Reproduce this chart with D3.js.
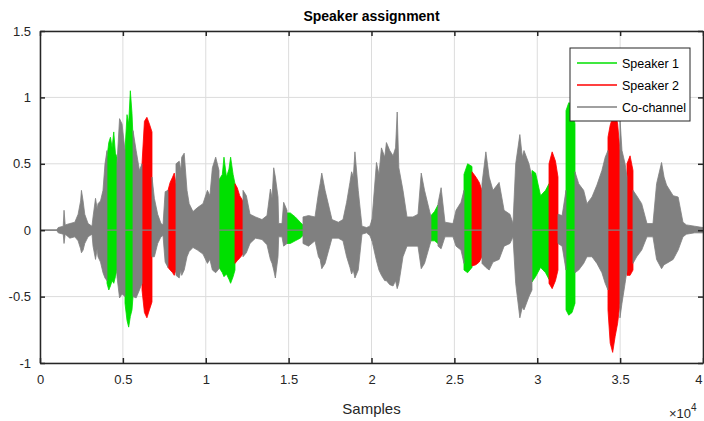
<!DOCTYPE html>
<html>
<head>
<meta charset="utf-8">
<script src="https://cdn.jsdelivr.net/npm/d3@7"></script>
<style>
  body { margin: 0; background: #fff; }
  svg { display: block; font-family: "Liberation Sans", Arial, sans-serif; }
</style>
</head>
<body>
<div id="chart"></div>
<script>
// envelope knots: [sample, upper, lower]
const speaker1 = [
  [[4042,0.55,-0.40],[4150,0.66,-0.45],[4250,0.70,-0.42],[4350,0.62,-0.38],[4450,0.74,-0.40],[4550,0.58,-0.35],[4645,0.55,-0.30]],
  [[5128,0.60,-0.55],[5250,0.87,-0.68],[5350,0.80,-0.73],[5450,1.05,-0.65],[5550,0.88,-0.60],[5611,0.70,-0.50]],
  [[10799,0.38,-0.28],[11000,0.42,-0.32],[11100,0.55,-0.35],[11250,0.40,-0.33],[11400,0.46,-0.37],[11500,0.55,-0.40],[11650,0.42,-0.35],[11764,0.35,-0.30]],
  [[14902,0.13,-0.10],[15100,0.13,-0.10],[15400,0.10,-0.08],[15700,0.06,-0.06],[15867,0.04,-0.04]],
  [[23589,0.11,-0.08],[23800,0.14,-0.08],[24011,0.19,-0.10]],
  [[25580,0.42,-0.30],[25800,0.50,-0.32],[26063,0.48,-0.28]],
  [[29682,0.45,-0.39],[29900,0.43,-0.35],[30200,0.26,-0.28],[30500,0.30,-0.32],[30708,0.35,-0.37]],
  [[31734,0.90,-0.60],[31900,0.96,-0.64],[32100,0.95,-0.62],[32277,0.80,-0.55]]
];

const speaker2 = [
  [[6154,0.50,-0.45],[6300,0.82,-0.62],[6450,0.85,-0.66],[6600,0.80,-0.60],[6757,0.74,-0.54]],
  [[7722,0.30,-0.28],[7850,0.36,-0.30],[8000,0.40,-0.32],[8100,0.43,-0.34],[8205,0.35,-0.30]],
  [[11764,0.35,-0.25],[11900,0.32,-0.23],[12050,0.26,-0.21],[12247,0.22,-0.18]],
  [[26063,0.44,-0.27],[26300,0.40,-0.26],[26500,0.36,-0.24],[26666,0.30,-0.20]],
  [[30708,0.50,-0.40],[30900,0.59,-0.44],[31100,0.52,-0.38],[31251,0.40,-0.30]],
  [[34267,0.70,-0.60],[34400,0.79,-0.85],[34550,0.85,-0.92],[34700,0.90,-0.80],[34850,0.80,-0.70],[34991,0.60,-0.55]],
  [[35414,0.50,-0.34],[35600,0.56,-0.34],[35776,0.45,-0.30]]
];

const coChannel = [
  [[0,0,0],[1000,0,0],[1100,0.02,-0.02],[1400,0.03,-0.03],[1450,0.15,-0.10],[1520,0.04,-0.03],[1800,0.05,-0.06],[2100,0.06,-0.05],[2300,0.12,-0.08],[2450,0.22,-0.14],[2500,0.30,-0.17],[2600,0.22,-0.15],[2700,0.12,-0.10],[2900,0.05,-0.05],[3137,0.03,-0.03],[3200,0.10,-0.12],[3350,0.24,-0.22],[3450,0.16,-0.14],[3500,0.20,-0.20],[3650,0.22,-0.24],[3800,0.30,-0.32],[3921,0.50,-0.36],[4042,0.60,-0.38]],
  [[4645,0.50,-0.35],[4800,0.84,-0.51],[4950,0.80,-0.48],[5128,0.60,-0.50]],
  [[5611,0.75,-0.50],[5800,0.60,-0.51],[6000,0.45,-0.45],[6154,0.50,-0.40]],
  [[6757,0.40,-0.20],[6900,0.24,-0.20],[7100,0.12,-0.10],[7300,0.05,-0.05],[7421,0.04,-0.04],[7550,0.29,-0.24],[7722,0.30,-0.28]],
  [[8205,0.50,-0.34],[8400,0.52,-0.36],[8500,0.45,-0.30],[8550,0.55,-0.34],[8700,0.58,-0.30],[8869,0.30,-0.20],[9000,0.20,-0.16],[9230,0.14,-0.13],[9500,0.17,-0.15],[9834,0.20,-0.18],[10100,0.30,-0.25],[10250,0.26,-0.22],[10400,0.47,-0.30],[10600,0.55,-0.32],[10799,0.45,-0.29]],
  [[12247,0.30,-0.20],[12450,0.26,-0.17],[12669,0.12,-0.10],[13000,0.10,-0.06],[13393,0.08,-0.07],[13695,0.11,-0.11],[13900,0.31,-0.22],[14000,0.24,-0.25],[14100,0.47,-0.30],[14200,0.40,-0.36],[14359,0.25,-0.20],[14400,0.05,-0.05],[14600,0.05,-0.05],[14700,0.21,-0.12],[14902,0.15,-0.10]],
  [[15867,0.10,-0.10],[16200,0.11,-0.12],[16591,0.10,-0.08],[16800,0.28,-0.20],[16900,0.35,-0.22],[17000,0.43,-0.29],[17200,0.30,-0.25],[17616,0.08,-0.06],[18000,0.06,-0.06],[18280,0.08,-0.08],[18500,0.21,-0.20],[18700,0.36,-0.28],[18800,0.44,-0.33],[18900,0.40,-0.30],[19000,0.59,-0.36],[19200,0.30,-0.30],[19426,0.03,-0.03],[19700,0.02,-0.02],[19900,0.03,-0.04],[20030,0.08,-0.08]],
  [[20030,0.08,-0.08],[20300,0.51,-0.23],[20450,0.42,-0.30],[20600,0.62,-0.34],[20800,0.55,-0.38],[20900,0.66,-0.38],[21100,0.60,-0.41],[21300,0.56,-0.42],[21450,0.62,-0.38],[21550,0.89,-0.44],[21650,0.47,-0.40],[21900,0.30,-0.20],[22141,0.10,-0.12],[22500,0.10,-0.12],[22805,0.12,-0.12],[23000,0.43,-0.29],[23200,0.30,-0.25],[23589,0.10,-0.08]],
  [[24011,0.20,-0.12],[24200,0.32,-0.14],[24434,0.06,-0.05],[24916,0.05,-0.05],[25100,0.15,-0.12],[25400,0.21,-0.15],[25580,0.30,-0.25]],
  [[26666,0.35,-0.25],[26900,0.59,-0.28],[27100,0.40,-0.30],[27330,0.30,-0.24],[27700,0.36,-0.22],[28000,0.15,-0.12],[28355,0.12,-0.10],[28536,0.05,-0.05],[28700,0.50,-0.40],[28950,0.72,-0.66],[29100,0.55,-0.58],[29200,0.60,-0.60],[29500,0.50,-0.50],[29682,0.40,-0.45]],
  [[31251,0.12,-0.10],[31500,0.11,-0.12],[31734,0.30,-0.30]],
  [[32277,0.44,-0.32],[32500,0.35,-0.30],[32800,0.30,-0.25],[33000,0.20,-0.20],[33302,0.25,-0.20],[33600,0.34,-0.25],[33900,0.45,-0.32],[34100,0.55,-0.40],[34267,0.60,-0.45]],
  [[34991,0.84,-0.66],[35112,0.60,-0.55],[35300,0.50,-0.40],[35414,0.40,-0.30]],
  [[35776,0.30,-0.25],[36000,0.26,-0.20],[36300,0.20,-0.15],[36620,0.05,-0.05],[36982,0.05,-0.05],[37200,0.35,-0.22],[37500,0.51,-0.29],[37650,0.40,-0.26],[37800,0.34,-0.25],[38200,0.26,-0.22],[38500,0.25,-0.15],[38792,0.06,-0.05],[39000,0.04,-0.03],[39500,0.03,-0.02],[40000,0.02,-0.02]]
];

const xTicks = [0, 0.5, 1, 1.5, 2, 2.5, 3, 3.5, 4];   // x 10^4
const yTicks = [-1, -0.5, 0, 0.5, 1, 1.5];
const legendNames = ["Speaker 1", "Speaker 2", "Co-channel"];
const colors = ["#00e000", "#ff0000", "#808080"];

const width = 704, height = 421;
const margin = {top: 31, right: 1, bottom: 58, left: 40};

const svg = d3.select("#chart").append("svg")
  .attr("width", width)
  .attr("height", height);

const x = d3.scaleLinear().domain([0, 40000]).range([margin.left, width - margin.right]);
const y = d3.scaleLinear().domain([-1, 1.5]).range([height - margin.bottom, margin.top]);

// grid
svg.append("g").selectAll("line.vx")
  .data(xTicks)
  .enter().append("line")
    .attr("x1", d => x(d * 1e4)).attr("x2", d => x(d * 1e4))
    .attr("y1", y(-1)).attr("y2", y(1.5))
    .attr("stroke", "#dcdcdc");
svg.append("g").selectAll("line.hy")
  .data(yTicks)
  .enter().append("line")
    .attr("x1", x(0)).attr("x2", x(40000))
    .attr("y1", d => y(d)).attr("y2", d => y(d))
    .attr("stroke", "#dcdcdc");

const area = d3.area()
  .x(d => x(d[0]))
  .y0(d => y(d[2]))
  .y1(d => y(d[1]));

const plot = svg.append("g");
[speaker1, speaker2, coChannel].forEach((series, i) => {
  plot.append("g").selectAll("path")
    .data(series)
    .enter().append("path")
      .attr("d", area)
      .attr("fill", colors[i])
      .attr("stroke", colors[i])
      .attr("stroke-width", 0.8);
});

// co-channel is zero inside the speaker segments
plot.append("line")
  .attr("x1", x(0)).attr("x2", x(40000))
  .attr("y1", y(0)).attr("y2", y(0))
  .attr("stroke", "#808080")
  .attr("stroke-width", 1.2);

// axes (box with ticks on all sides)
const axisColor = "#262626";
const xb = svg.append("g").attr("transform", `translate(0,${y(-1)})`)
  .call(d3.axisBottom(x).tickValues(xTicks.map(d => d * 1e4)).tickFormat((d, i) => xTicks[i]).tickSizeInner(-5).tickSizeOuter(0).tickPadding(12));
const xt = svg.append("g").attr("transform", `translate(0,${y(1.5)})`)
  .call(d3.axisTop(x).tickValues(xTicks.map(d => d * 1e4)).tickFormat("").tickSizeInner(-5).tickSizeOuter(0));
const yl = svg.append("g").attr("transform", `translate(${x(0)},0)`)
  .call(d3.axisLeft(y).tickValues(yTicks).tickFormat(d => d).tickSizeInner(-5).tickSizeOuter(0).tickPadding(9));
const yr = svg.append("g").attr("transform", `translate(${x(40000)},0)`)
  .call(d3.axisRight(y).tickValues(yTicks).tickFormat("").tickSizeInner(-5).tickSizeOuter(0));

[xb, xt, yl, yr].forEach(g => {
  g.selectAll("path").attr("stroke", axisColor).attr("stroke-width", 1.5);
  g.selectAll("line").attr("stroke", axisColor).attr("stroke-width", 1.5);
  g.selectAll("text").attr("fill", axisColor).style("font-size", "13px").style("font-family", "Liberation Sans, Arial, sans-serif");
});
// last x label sits at the window edge
xb.selectAll(".tick:last-of-type text").attr("text-anchor", "end").attr("dx", -1);

// title and labels
svg.append("text")
  .attr("x", (x(0) + x(40000)) / 2).attr("y", 21)
  .attr("text-anchor", "middle")
  .style("font-size", "14px").style("font-weight", "bold")
  .attr("fill", "#000")
  .text("Speaker assignment");

svg.append("text")
  .attr("x", (x(0) + x(40000)) / 2).attr("y", 414)
  .attr("text-anchor", "middle")
  .style("font-size", "15px")
  .attr("fill", axisColor)
  .text("Samples");

const expo = svg.append("text")
  .attr("x", 669).attr("y", 418)
  .style("font-size", "13px")
  .attr("fill", axisColor);
expo.append("tspan").text("×10");
expo.append("tspan").attr("dy", -7).style("font-size", "10px").text("4");

// legend
const lg = svg.append("g").attr("transform", "translate(570,48)");
lg.append("rect")
  .attr("width", 120).attr("height", 73)
  .attr("fill", "#fff")
  .attr("stroke", axisColor)
  .attr("stroke-width", 1);
legendNames.forEach((name, i) => {
  const yy = 15 + i * 22;
  lg.append("line")
    .attr("x1", 7).attr("x2", 47)
    .attr("y1", yy).attr("y2", yy)
    .attr("stroke", colors[i]).attr("stroke-width", 1.5);
  lg.append("text")
    .attr("x", 52).attr("y", yy + 4.5)
    .style("font-size", "12.5px")
    .attr("fill", "#000")
    .text(name);
});
</script>
</body>
</html>
